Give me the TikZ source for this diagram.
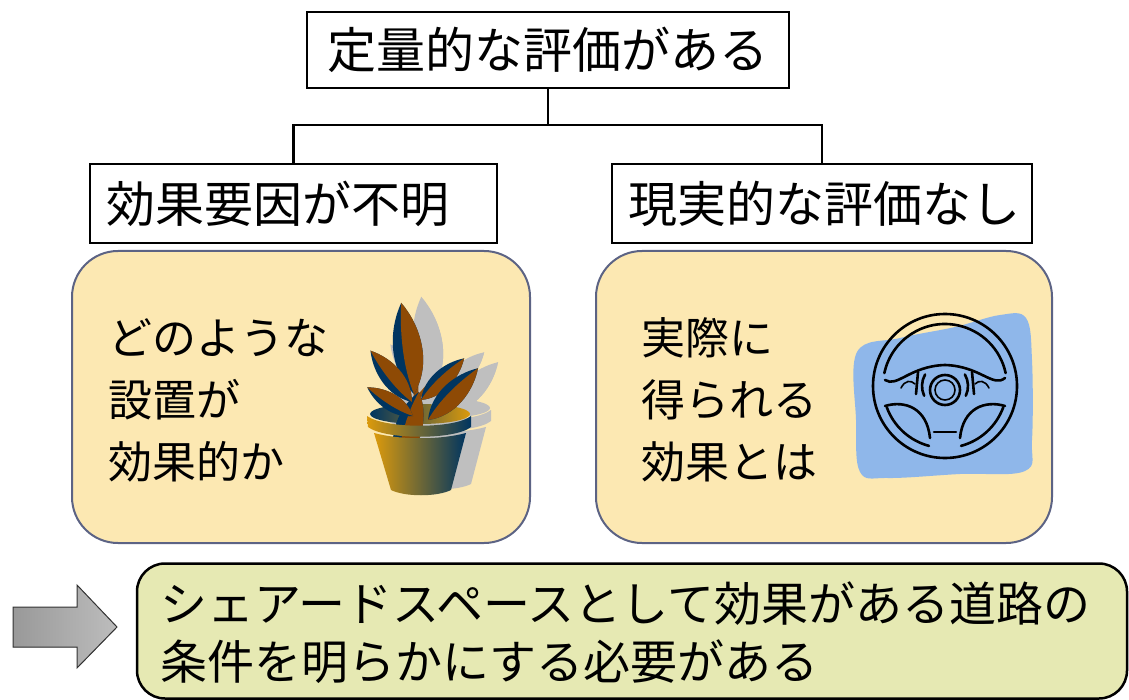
\documentclass[tikz,border=0pt]{standalone}
\usepackage{fontspec}
\setmainfont{Noto Sans CJK JP}
\usepackage{tikz}
\usetikzlibrary{positioning}

\definecolor{cardfill}{HTML}{FCE8B2}
\definecolor{cardline}{HTML}{5C6384}
\definecolor{notefill}{HTML}{E6E9B3}
\definecolor{wheelblue}{HTML}{8FB7EA}
\definecolor{potL}{HTML}{DB9A0C}
\definecolor{potM}{HTML}{8E4A05}
\definecolor{potR}{HTML}{003560}
\colorlet{leafA}{potM}
\colorlet{leafB}{potR}

% leaf of length 1 along +x, brown face on one side
\tikzset{
  leaf/.pic={
    \fill[leafB] (0,0) .. controls (0.3,0.24) and (0.72,0.18) .. (1,0)
                       .. controls (0.72,-0.18) and (0.3,-0.24) .. (0,0);
    \fill[leafA] (0,0) .. controls (0.3,0.24) and (0.72,0.18) .. (1,0)
                       .. controls (0.7,-0.06) and (0.3,-0.08) .. (0,0);
  }
}

% potted plant, coordinates in pt with y pointing down
\newcommand\drawplant{%
  \shade[left color=potR, right color=potL] (420,414) ellipse[x radius=50, y radius=10];
  \draw[potM, line width=5pt] (417,418) -- (414,340);
  \draw[potM, line width=4pt] (416,400) -- (440,372);
  \pic[rotate=98,  scale=92] at (414,394) {leaf};
  \pic[rotate=-106, yscale=-1, scale=84] at (419,392) {leaf};
  \pic[rotate=129, scale=66] at (412,402) {leaf};
  \pic[rotate=44,  scale=60] at (421,400) {leaf};
  \pic[rotate=46,  scale=72] at (428,420) {leaf};
  \pic[rotate=148, scale=54] at (413,416) {leaf};
  \shade[left color=potL, middle color=potM, right color=potR]
    (367,416) -- (368,427) .. controls (385,440) and (455,440) .. (471,427)
    -- (471,416) .. controls (455,429) and (385,429) .. (367,416) -- cycle;
  \shade[left color=potL, middle color=potM, right color=potR]
    (374,433) -- (391,490) .. controls (405,497) and (437,497) .. (451,490)
    -- (466,433) .. controls (440,440) and (400,440) .. (374,433) -- cycle;
}

\begin{document}
\begin{tikzpicture}[x=1pt, y=-1pt,
  lbl/.style={draw, line width=1.8pt, inner sep=0pt, font=\fontsize{49}{56}\selectfont},
  sublbl/.style={lbl, inner xsep=16pt, align=left, minimum height=79pt},
  card/.style={draw=cardline, line width=2pt, fill=cardfill, rounded corners=46pt,
    minimum height=292pt},
  cardtxt/.style={anchor=west, align=left, inner sep=0pt, font=\fontsize{44}{62}\selectfont},
  link/.style={line width=2.6pt}
]
\useasboundingbox (0,0) rectangle (1129,700);

% labels and tree
\node[lbl, minimum width=482pt, minimum height=76pt] (eval) at (548,50) {定量的な評価がある};
\node[sublbl, text width=375pt] (unclear) at (293.5,203.5) {効果要因が不明};
\node[sublbl, text width=388pt] (noreal) at (822,203.5) {現実的な評価なし};
\draw[link] (eval.south) -- ++(0,36) coordinate (fork) -| (unclear.north);
\draw[link] (fork) -| (noreal.north);

% question cards
\node[card, minimum width=458pt] (place) at (301,397) {};
\node[card, minimum width=456pt] (real) at (824,397) {};
\node[cardtxt] (placeq) at (108,400) {どのような\\設置が\\効果的か};
\node[cardtxt] (realq) at (641,400) {実際に\\得られる\\効果とは};

% plant with its shadow
\begin{scope}[shift={(20,-6)}]
  \colorlet{leafA}{black!25}\colorlet{leafB}{black!25}
  \colorlet{potL}{black!25}\colorlet{potM}{black!25}\colorlet{potR}{black!25}
  \drawplant
\end{scope}
\drawplant

% steering wheel
\fill[wheelblue] plot[smooth cycle, tension=0.6] coordinates {(857,352) (900,338) (955,327)
  (1000,315) (1026,318) (1032,360) (1032,440) (1025,471) (960,474) (888,478) (860,472) (856,420)};
\begin{scope}[shift={(945,386)}, yscale=-1, line width=2.6pt, line cap=round]
  \draw (0,0) circle[radius=72];
  \draw (168:62) arc[start angle=168, end angle=12, radius=62];
  \draw (-60,6) .. controls (-48,-2) and (-35,20) .. (0,21) .. controls (35,20) and (48,-2) .. (60,8);
  \draw (0,-4) circle[radius=15];
  \draw[line width=1.6pt] (0,-4) circle[radius=10];
  \draw (-27,14) -- (-29,-8);
  \draw (27,14) -- (29,-8);
  \draw (150:23) arc[start angle=150, end angle=205, radius=23];
  \draw (30:23) arc[start angle=30, end angle=-25, radius=23];
  \draw (-60,-20) .. controls (-40,-14) and (-18,-22) .. (-15,-52);
  \draw (60,-20) .. controls (40,-14) and (18,-22) .. (15,-52);
  \draw (-11,-46) -- (11,-46);
  \draw (200:62) arc[start angle=200, end angle=255, radius=62];
  \draw (-20:62) arc[start angle=-20, end angle=-75, radius=62];
  \draw[line width=1.6pt] (-44,-2) .. controls (-40,6) and (-34,6) .. (-30,2);
  \draw[line width=1.6pt] (44,-2) .. controls (40,6) and (34,6) .. (30,2);
\end{scope}

% conclusion
\fill[left color=black!40, right color=black!26, draw=black!80, line width=1pt]
  (13,607) -- (77,607) -- (77,585) -- (117,627) -- (77,668) -- (77,647) -- (13,647) -- cycle;
\node[draw, line width=2.5pt, fill=notefill, rounded corners=28pt,
  minimum width=990pt, minimum height=135pt] (need) at (632,631) {};
\node[anchor=west, align=left, inner sep=0pt, font=\fontsize{47}{58}\selectfont] (needtxt)
  at (160,633) {シェアードスペースとして効果がある道路の\\条件を明らかにする必要がある};
\end{tikzpicture}
\end{document}
